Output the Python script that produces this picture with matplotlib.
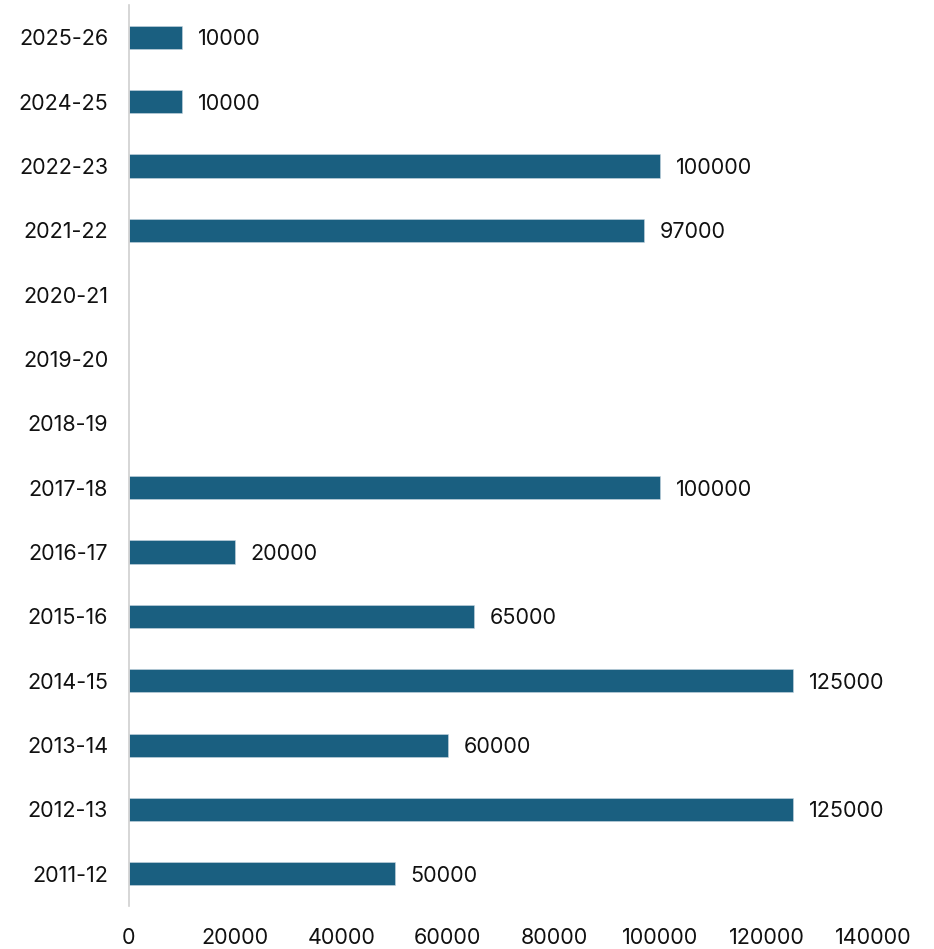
import matplotlib
matplotlib.use("Agg")
import matplotlib.pyplot as plt
import numpy as np

categories = ["2011-12", "2012-13", "2013-14", "2014-15", "2015-16", "2016-17",
              "2017-18", "2018-19", "2019-20", "2020-21", "2021-22", "2022-23",
              "2024-25", "2025-26"]
values = [50000, 125000, 60000, 125000, 65000, 20000, 100000,
          None, None, None, 97000, 100000, 10000, 10000]
xticks = [0, 20000, 40000, 60000, 80000, 100000, 120000, 140000]

plt.rcParams['font.family'] = ['Inter', 'DejaVu Sans']
FS = 15.5

fig = plt.figure(figsize=(9.34, 9.49), dpi=100)
ax = fig.add_axes([0.1381, 0.0453, 0.7966, 0.9494])

y = np.arange(len(categories))
bar_color = '#1a5f80'
for yi, v in zip(y, values):
    if v is None:
        continue
    ax.barh(yi, v, height=0.36, color=bar_color, edgecolor='#c8d6e0', linewidth=0.4)
    ax.text(v + 2900, yi, f"{v}", va='center_baseline', ha='left', fontsize=FS, color='#111111')

ax.set_xlim(0, 140000)
ax.set_ylim(-0.5, len(categories) - 0.5)
ax.set_yticks(y)
ax.set_yticklabels(categories, fontsize=FS, color='#111111', va='center_baseline')
ax.set_xticks(xticks)
ax.set_xticklabels([str(t) for t in xticks], fontsize=FS, color='#111111')
ax.tick_params(axis='y', length=0, pad=15)
ax.tick_params(axis='x', length=0, pad=16)
for s in ['top', 'right', 'bottom']:
    ax.spines[s].set_visible(False)
ax.spines['left'].set_color('#d0d0d0')
ax.spines['left'].set_linewidth(1.2)

fig.savefig("out.png", dpi=100, facecolor='white')
